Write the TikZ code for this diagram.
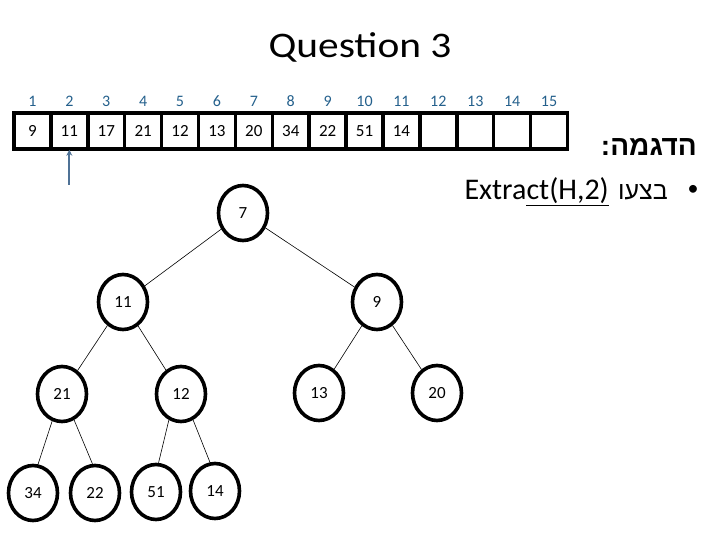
\documentclass[tikz,border=0pt]{standalone}
\usepackage{fontspec}
\setmainfont{Carlito}
\newfontfamily\titlefont[FakeStretch=1.15]{Carlito}
\newfontfamily\hebfont[Script=Hebrew]{Liberation Sans}
\TeXXeTstate=1
\usetikzlibrary{shapes.geometric,arrows.meta}
\definecolor{idxblue}{RGB}{36,96,140}
\definecolor{ptrblue}{RGB}{79,114,150}
\tikzset{
  cell/.style={draw, line width=3.5pt, minimum width=36.9pt, minimum height=36pt, inner sep=0pt, font=\fontsize{17}{19}\selectfont},
  idx/.style={text=idxblue, inner sep=0pt, font=\fontsize{16}{18}\selectfont},
  hn/.style={draw, ellipse, line width=3.6pt, minimum width=49pt, minimum height=55pt, inner sep=0pt, font=\fontsize{17}{19}\selectfont},
  edge/.style={line width=0.6pt},
}
\begin{document}
\begin{tikzpicture}[x=1pt,y=-1pt]
\useasboundingbox (0,0) rectangle (720,540);
\node[font=\titlefont\fontsize{36}{40}\selectfont, anchor=base, inner sep=0pt] (title) at (360,58) {Question 3};
% array
\foreach \v [count=\i] in {9,11,17,21,12,13,20,34,22,51,14,{},{},{},{}} {
  \node[cell] (c\i) at ({14+36.9*(\i-0.5)},131) {\v};
  \node[idx] (i\i) at ({14+36.9*(\i-0.5)},101) {\i};
}
\coordinate (ptr) at (c2.south |- 0,185);
\draw[ptrblue, line width=2pt, -{Stealth[length=6pt,width=6pt]}] (ptr) -- ([yshift=1pt]c2.south);
% tree
\node[hn] (n7) at (243,213) {7};
\node[hn] (n11) at (123,302) {11};
\node[hn] (n9) at (377,302) {9};
\node[hn] (n21) at (62,394) {21};
\node[hn] (n12) at (181,394) {12};
\node[hn] (n13) at (319,393) {13};
\node[hn] (n20) at (437,393) {20};
\node[hn] (n34) at (33,493) {34};
\node[hn] (n22) at (95,493) {22};
\node[hn] (n51) at (156,492) {51};
\node[hn] (n14) at (215,491) {14};
\draw[edge] (n7) -- (n11);
\draw[edge] (n7) -- (n9);
\draw[edge] (n11) -- (n21);
\draw[edge] (n11) -- (n12);
\draw[edge] (n9) -- (n13);
\draw[edge] (n9) -- (n20);
\draw[edge] (n21.250) -- (n34.80);
\draw[edge] (n21.295) -- (n22.95);
\draw[edge] (n12.245) -- (n51.85);
\draw[edge] (n12.295) -- (n14.100);
% text
\node[anchor=base east, inner sep=0pt, font=\hebfont\bfseries\fontsize{28}{30}\selectfont] (head) at (697,156) {\beginR הדגמה:\endR};
\node[anchor=center, inner sep=0pt, font=\fontsize{22}{24}\selectfont] (bul) at (693,190) {•};
\node[anchor=base east, inner sep=0pt, font=\hebfont\fontsize{25}{27}\selectfont] (heb) at (668,200) {\beginR בצעו\endR};
\node[anchor=base east, inner sep=0pt, font=\fontsize{30}{32}\selectfont] (ext) at (609,200) {Extra\underline{ct(H,2)}};
\end{tikzpicture}
\end{document}
